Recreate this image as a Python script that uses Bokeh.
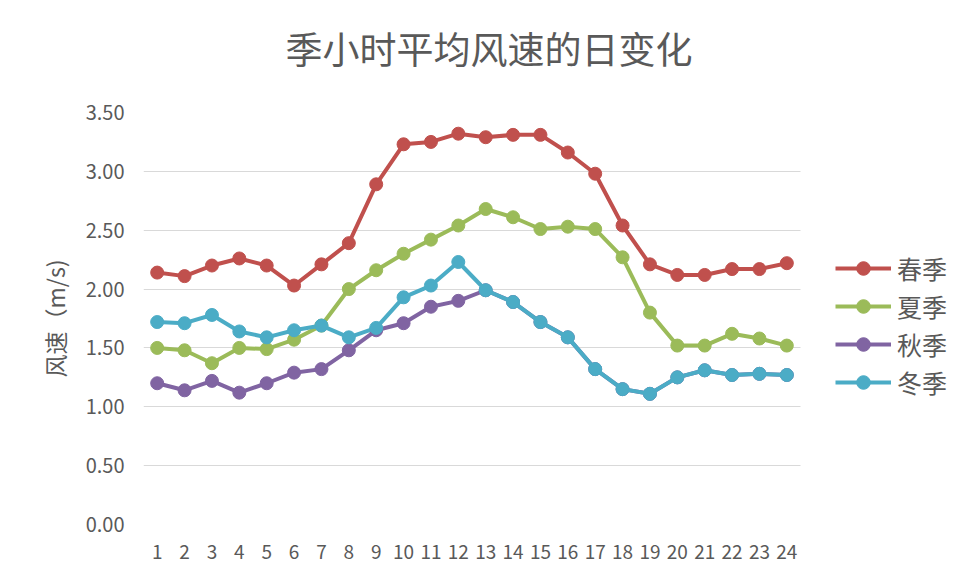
from bokeh.plotting import figure
from bokeh.models import Range1d, FixedTicker, NumeralTickFormatter, Legend, LegendItem, Title
from bokeh.embed import file_html
from bokeh.resources import INLINE

hours = list(range(1, 25))
spring = [2.14, 2.11, 2.20, 2.26, 2.20, 2.03, 2.21, 2.39, 2.89, 3.23, 3.25, 3.32,
          3.29, 3.31, 3.31, 3.16, 2.98, 2.54, 2.21, 2.12, 2.12, 2.17, 2.17, 2.22]
summer = [1.50, 1.48, 1.37, 1.50, 1.49, 1.57, 1.69, 2.00, 2.16, 2.30, 2.42, 2.54,
          2.68, 2.61, 2.51, 2.53, 2.51, 2.27, 1.80, 1.52, 1.52, 1.62, 1.58, 1.52]
autumn = [1.20, 1.14, 1.22, 1.12, 1.20, 1.29, 1.32, 1.48, 1.65, 1.71, 1.85, 1.90,
          1.99, 1.89, 1.72, 1.59, 1.32, 1.15, 1.11, 1.25, 1.31, 1.27, 1.28, 1.27]
winter = [1.72, 1.71, 1.78, 1.64, 1.59, 1.65, 1.69, 1.59, 1.67, 1.93, 2.03, 2.23,
          1.99, 1.89, 1.72, 1.59, 1.32, 1.15, 1.11, 1.25, 1.31, 1.27, 1.28, 1.27]
series_names = ["春季", "夏季", "秋季", "冬季"]
series_values = [spring, summer, autumn, winter]
colors = ["#C0504D", "#9BBB59", "#8064A2", "#4BACC6"]
y_ticks = [0, 0.5, 1.0, 1.5, 2.0, 2.5, 3.0, 3.5]
title_text = "季小时平均风速的日变化"
y_label = "风速（m/s)"

FONT = "Noto Sans CJK SC"
TXT = "#595959"
GRID = "#d9d9d9"

W, H = 955, 572
LEFT, RIGHT_PAD = 143, 1
step = (800 - 143) / 24.0            # pixel width of one hour slot
x_end = 0.5 + (W - LEFT - RIGHT_PAD) / step   # extra room on the right for the legend

p = figure(width=W, height=H, output_backend="svg", toolbar_location=None,
           x_range=Range1d(0.5, x_end), y_range=Range1d(0, 3.5),
           min_border_left=LEFT, min_border_right=RIGHT_PAD, min_border_top=112,
           min_border_bottom=48)
p.outline_line_color = None
p.background_fill_color = "white"
p.border_fill_color = "white"

# spacer between title and plot area
spacer = Title(text=" ", text_font_size="31px", standoff=0)
p.add_layout(spacer, "above")

p.title.text = title_text
p.title.align = "left"
p.title.offset = 142
p.title.vertical_align = "middle"
p.title.standoff = 0
p.title.text_font = FONT
p.title.text_font_size = "37px"
p.title.text_font_style = "normal"
p.title.text_color = TXT

p.xaxis.ticker = FixedTicker(ticks=hours)
p.yaxis.ticker = FixedTicker(ticks=y_ticks)
p.yaxis.formatter = NumeralTickFormatter(format="0.00")
for ax in (p.xaxis, p.yaxis):
    ax.axis_line_color = None
    ax.major_tick_line_color = None
    ax.minor_tick_line_color = None
    ax.major_label_text_font = FONT
    ax.major_label_text_color = TXT
p.xaxis.major_label_text_font_size = "19px"
p.yaxis.major_label_text_font_size = "20px"
p.xaxis.major_label_standoff = 14
p.yaxis.major_label_standoff = 13
p.yaxis.axis_label = y_label
p.yaxis.axis_label_text_font = FONT
p.yaxis.axis_label_text_font_size = "23px"
p.yaxis.axis_label_text_font_style = "normal"
p.yaxis.axis_label_text_color = TXT
p.yaxis.axis_label_standoff = 11

p.xgrid.grid_line_color = None
grid_done = False
try:
    p.ygrid.cross_bounds = (0.5, 24.5)
    p.ygrid.grid_line_color = GRID
    p.ygrid.grid_line_width = 1
    grid_done = True
except Exception:
    grid_done = False
if not grid_done:
    p.ygrid.grid_line_color = None
    p.segment(x0=[0.5] * len(y_ticks), x1=[24.5] * len(y_ticks), y0=y_ticks, y1=y_ticks,
              line_color=GRID, line_width=1)

items = []
for name, vals, c in zip(series_names, series_values, colors):
    r1 = p.line(hours, vals, line_color=c, line_width=4)
    r2 = p.scatter(hours, vals, size=13, fill_color=c, line_color=c)
    items.append(LegendItem(label=name, renderers=[r1, r2]))

legend = Legend(items=items, location=(692, 124), padding=0, margin=0,
                border_line_color=None, background_fill_alpha=0,
                label_text_font=FONT, label_text_font_size="25px",
                label_text_color=TXT, glyph_width=56, glyph_height=34,
                label_height=34, spacing=2, label_standoff=6)
p.add_layout(legend, "center")

open("out.html", "w").write(file_html(p, INLINE))
